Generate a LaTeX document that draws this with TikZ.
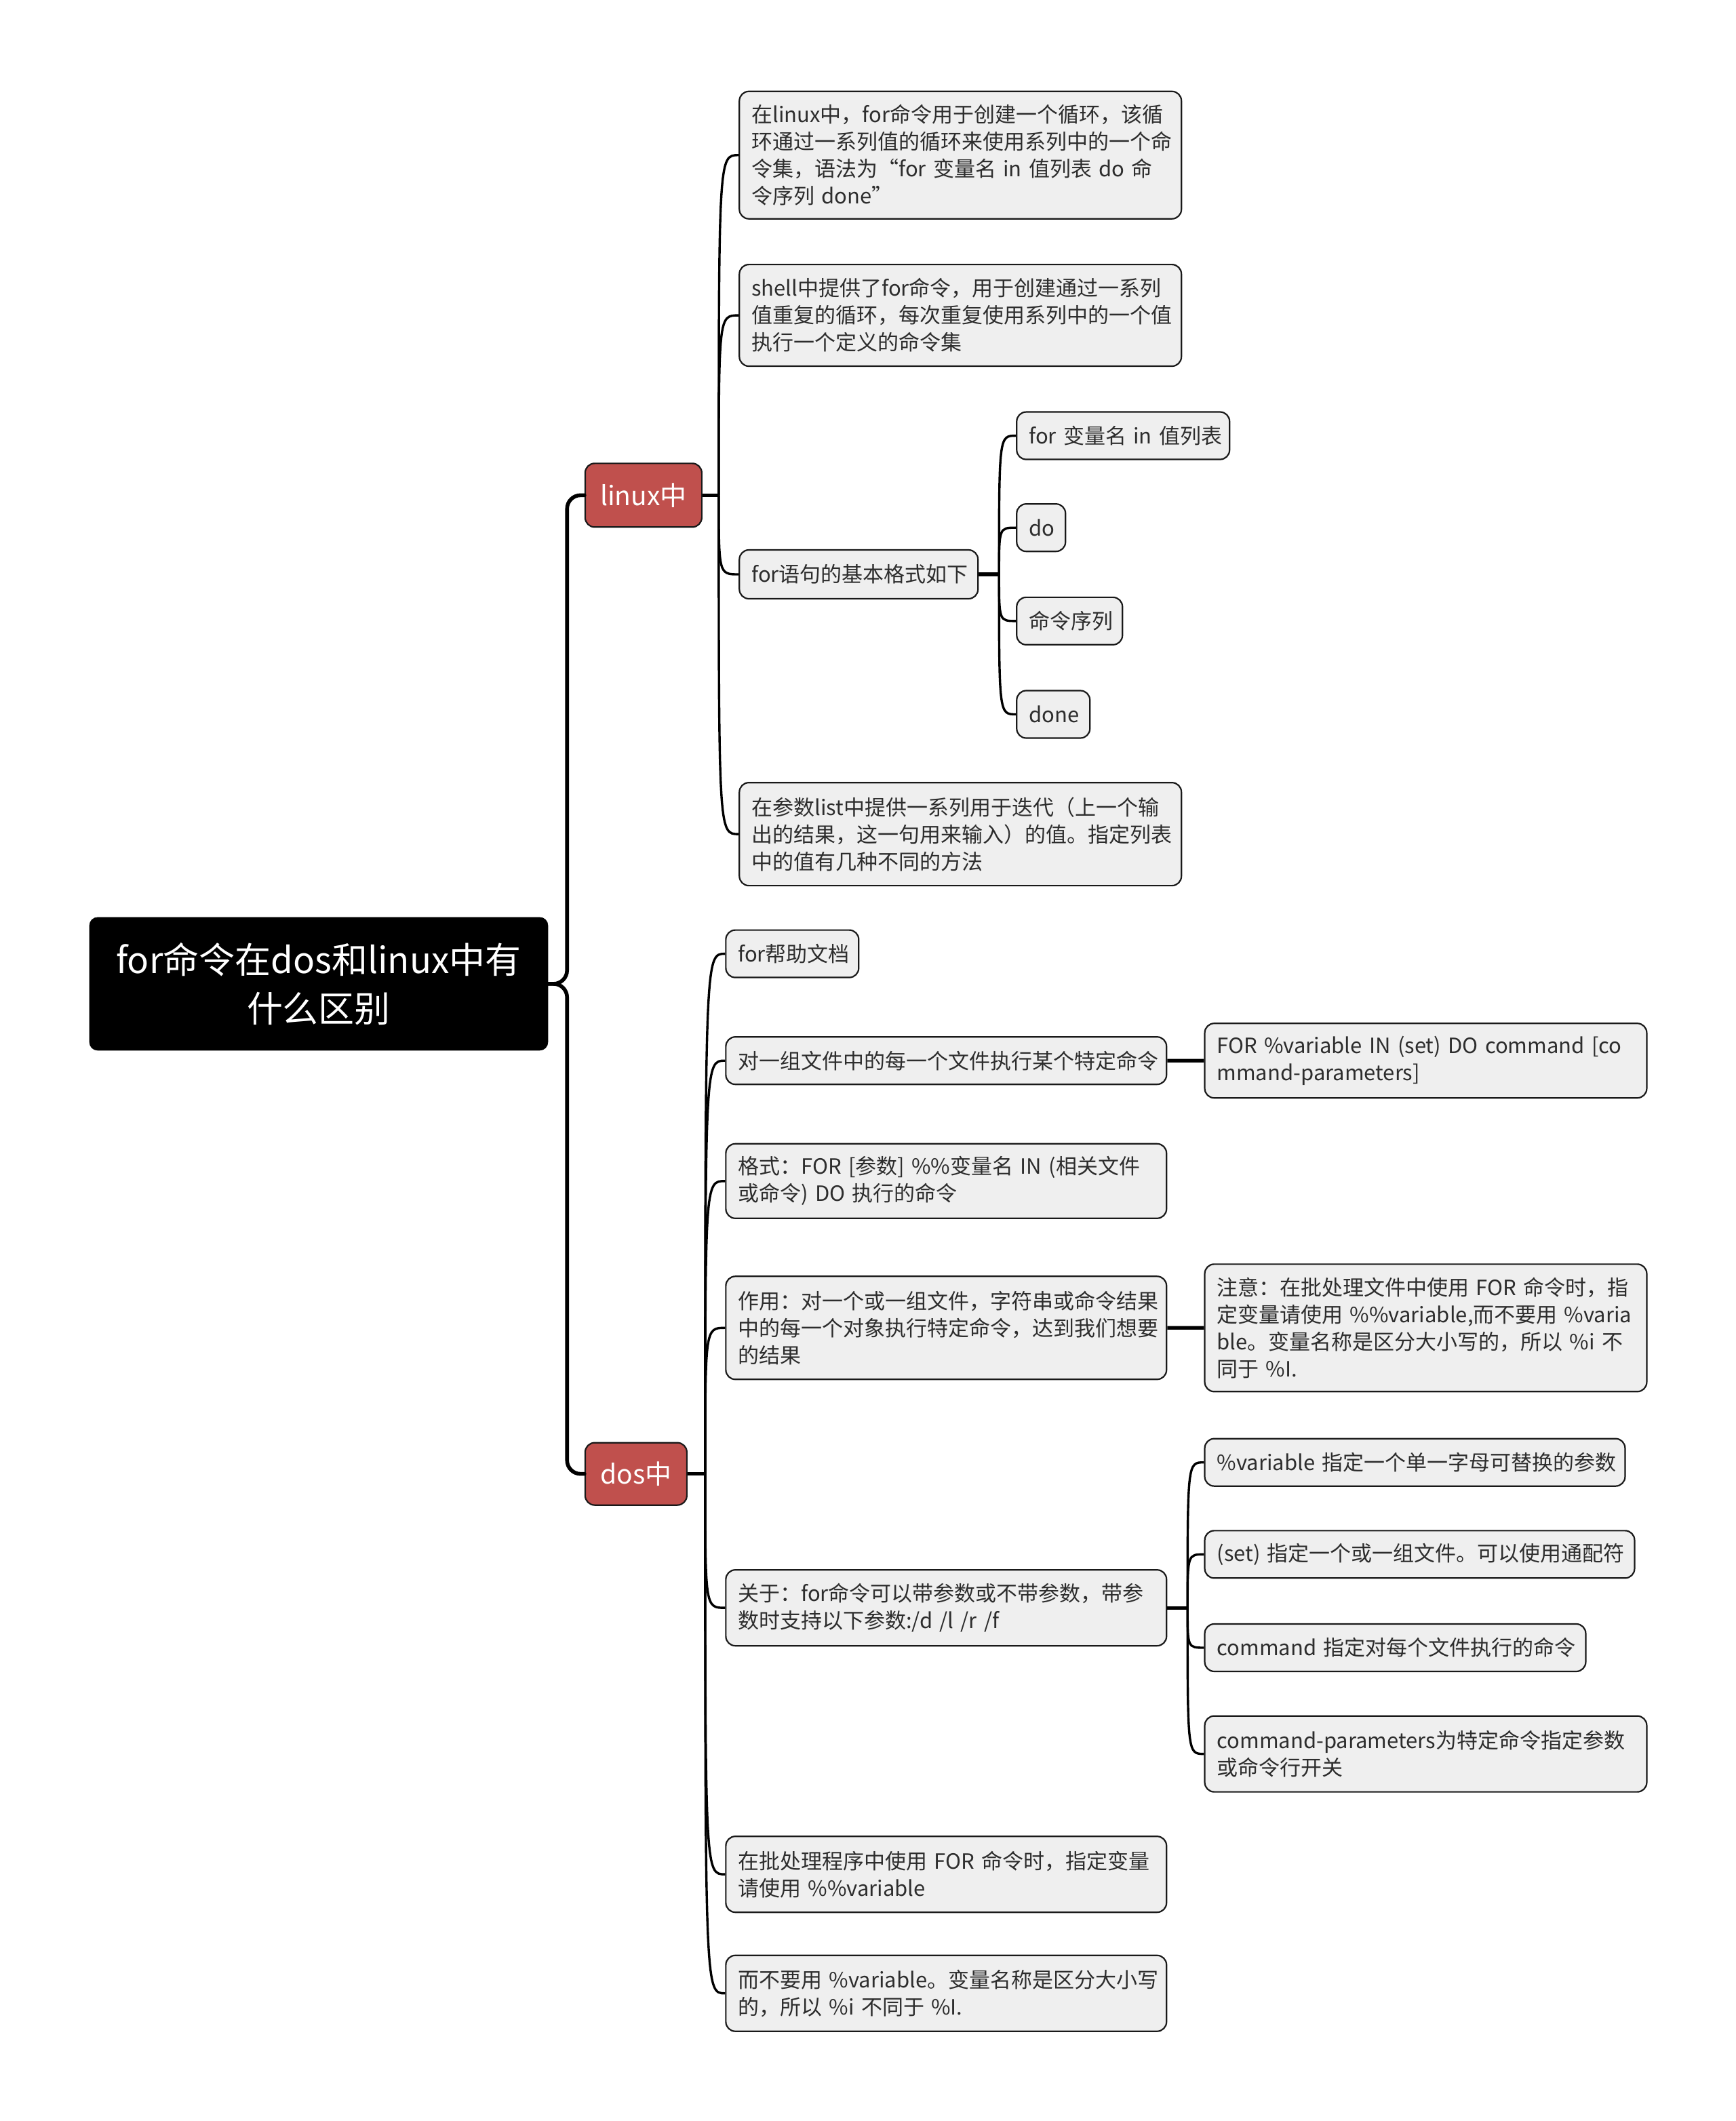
\documentclass[tikz,border=0pt]{standalone}
\usepackage{fontspec}
\setmainfont{Noto Sans CJK SC}
\definecolor{leaffill}{RGB}{239,239,239}
\definecolor{redfill}{RGB}{192,80,77}
\definecolor{txt}{RGB}{45,45,45}
\newcommand\tl[1]{\mbox{#1}}
\tikzset{
  box/.style 2 args={minimum width=#1pt, minimum height=#2pt,
    /utils/exec={\pgfmathsetlengthmacro\mytw{#1pt-18pt}}, text width=\mytw},
  leaf/.style={draw=black!90, line width=1.1pt, fill=leaffill, rounded corners=7pt,
    anchor=north west, inner xsep=9pt, inner ysep=0pt, align=left, text=txt,
    font=\fontsize{15.5}{20}\selectfont},
  rootbox/.style={fill=black, draw=black, rounded corners=6pt, anchor=north west,
    text=white, align=center, minimum width=338pt, minimum height=98pt,
    font=\fontsize{26.5}{36}\selectfont},
  redbox/.style={fill=redfill, draw=black!90, line width=1.1pt, rounded corners=7pt,
    anchor=north west, text=white, font=\fontsize{19.5}{22}\selectfont},
  trunk/.style={line width=2.8pt, black, line cap=round},
  stub/.style={line width=2.6pt, black},
  branch/.style={line width=1.7pt, black},
}
\begin{document}
\begin{tikzpicture}[x=0.9977pt,y=-0.9977pt]
\useasboundingbox (0,0) rectangle (1283,1568);

% root
\node[rootbox] (root) at (66,678) {for命令在dos和linux中有\\什么区别};

% level 1
\node[redbox, minimum width=86pt, minimum height=47pt] (linux) at (432,342) {linux中};
\node[redbox, minimum width=75pt, minimum height=46pt] (dos) at (432,1066) {dos中};

% linux children
\node[leaf, box={326}{94}] (l1) at (546,67) {\tl{在linux中，for命令用于创建一个循环，该循}\\\tl{环通过一系列值的循环来使用系列中的一个命}\\\tl{令集，语法为“for 变量名 in 值列表 do 命}\\\tl{令序列 done”}};
\node[leaf, box={326}{75}] (l2) at (546,195) {\tl{shell中提供了for命令，用于创建通过一系列}\\\tl{值重复的循环，每次重复使用系列中的一个值}\\\tl{执行一个定义的命令集}};
\node[leaf, box={176}{36}] (l3) at (546,406) {\tl{for语句的基本格式如下}};
\node[leaf, box={326}{76}] (l4) at (546,578) {\tl{在参数list中提供一系列用于迭代（上一个输}\\\tl{出的结果，这一句用来输入）的值。指定列表}\\\tl{中的值有几种不同的方法}};

% for statement children
\node[leaf, box={157}{35}] (s1) at (751,304) {\tl{for 变量名 in 值列表}};
\node[leaf, box={36}{35}] (s2) at (751,372) {\tl{do}};
\node[leaf, box={78}{35}] (s3) at (751,441) {\tl{命令序列}};
\node[leaf, box={54}{35}] (s4) at (751,510) {\tl{done}};

% dos children
\node[leaf, box={98}{35}] (d1) at (536,687) {\tl{for帮助文档}};
\node[leaf, box={325}{35}] (d2) at (536,766) {\tl{对一组文件中的每一个文件执行某个特定命令}};
\node[leaf, box={326}{55}] (d2a) at (890,756) {\tl{FOR \%variable IN (set) DO command [co}\\\tl{mmand-parameters]}};
\node[leaf, box={325}{55}] (d3) at (536,845) {\tl{格式：FOR [参数] \%\%变量名 IN (相关文件}\\\tl{或命令) DO 执行的命令}};
\node[leaf, box={325}{76}] (d4) at (536,943) {\tl{作用：对一个或一组文件，字符串或命令结果}\\\tl{中的每一个对象执行特定命令，达到我们想要}\\\tl{的结果}};
\node[leaf, box={326}{94}] (d4a) at (890,934) {\tl{注意：在批处理文件中使用 FOR 命令时，指}\\\tl{定变量请使用 \%\%variable,而不要用 \%varia}\\\tl{ble。变量名称是区分大小写的，所以 \%i 不}\\\tl{同于 \%I.}};
\node[leaf, box={325}{56}] (d5) at (536,1160) {\tl{关于：for命令可以带参数或不带参数，带参}\\\tl{数时支持以下参数:/d /l /r /f}};
\node[leaf, box={310}{35}] (d5a) at (890,1063) {\tl{\%variable 指定一个单一字母可替换的参数}};
\node[leaf, box={317}{35}] (d5b) at (890,1131) {\tl{(set) 指定一个或一组文件。可以使用通配符}};
\node[leaf, box={281}{35}] (d5c) at (890,1200) {\tl{command 指定对每个文件执行的命令}};
\node[leaf, box={326}{56}] (d5d) at (890,1268) {\tl{command-parameters为特定命令指定参数}\\\tl{或命令行开关}};
\node[leaf, box={325}{56}] (d6) at (536,1357) {\tl{在批处理程序中使用 FOR 命令时，指定变量}\\\tl{请使用 \%\%variable}};
\node[leaf, box={325}{56}] (d7) at (536,1445) {\tl{而不要用 \%variable。变量名称是区分大小写}\\\tl{的，所以 \%i 不同于 \%I.}};

% root connectors
\draw[trunk, rounded corners=10pt] (root.east) -- ++(14,0) |- (linux.west);
\draw[trunk, rounded corners=10pt] (root.east) -- ++(14,0) |- (dos.west);

% linux branches
\draw[stub] (linux.east) -- ++(12,0) coordinate (jl);
\foreach \c in {l1,l2,l3,l4}
  \draw[branch] (jl) .. controls (jl |- \c.west) .. (\c.west);

% for statement branches
\draw[stub] (l3.east) -- ++(15,0) coordinate (js);
\foreach \c in {s1,s2,s3,s4}
  \draw[branch] (js) .. controls (js |- \c.west) .. (\c.west);

% dos branches
\draw[stub] (dos.east) -- ++(13,0) coordinate (jd);
\foreach \c in {d1,d2,d3,d4,d5,d6,d7}
  \draw[branch] (jd) .. controls (jd |- \c.west) .. (\c.west);

% detail connectors
\draw[stub] (d2.east) -- (d2a.west);
\draw[stub] (d4.east) -- (d4a.west);
\draw[stub] (d5.east) -- ++(15,0) coordinate (j5);
\foreach \c in {d5a,d5b,d5c,d5d}
  \draw[branch] (j5) .. controls (j5 |- \c.west) .. (\c.west);
\end{tikzpicture}
\end{document}
